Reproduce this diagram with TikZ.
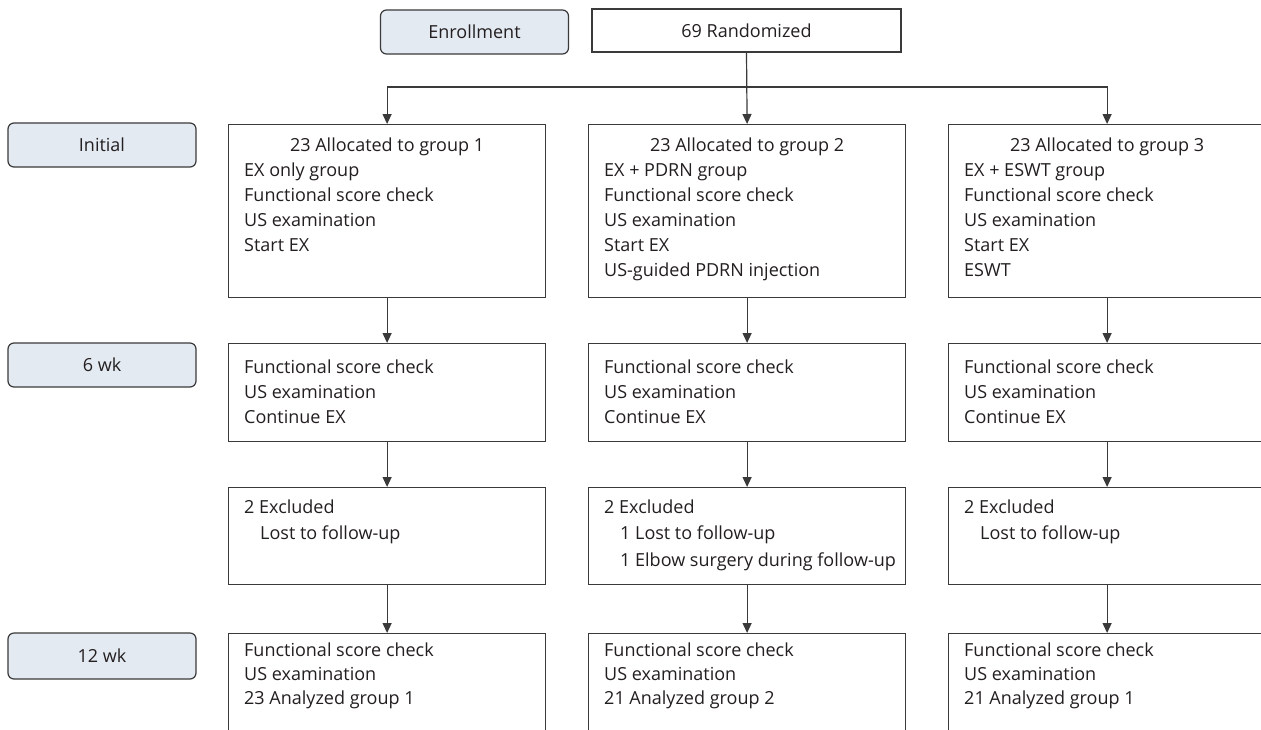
\documentclass[tikz,border=0pt]{standalone}
\usepackage{fontspec}
\setmainfont{Open Sans}
\usetikzlibrary{arrows.meta,calc}
\definecolor{lblfill}{HTML}{E4EAF2}
\definecolor{linec}{HTML}{3A3A3A}
\definecolor{textc}{HTML}{231F20}
\newcommand{\fsA}{\fontsize{18}{25}\selectfont}
\newcommand{\fsB}{\fontsize{18}{26.5}\selectfont}
\newcommand{\fsC}{\fontsize{18}{24}\selectfont}
\tikzset{
 lbl/.style={draw=linec, fill=lblfill, rounded corners=6pt, line width=1.2pt, minimum width=188pt, minimum height=44pt, inner sep=0pt, font=\fsA, text=textc},
 plainbox/.style={draw=linec, line width=1.2pt, inner sep=0pt, font=\fsA, text=textc},
 box/.style={draw=linec, line width=1.2pt, anchor=north west, inner sep=0pt, minimum width=317pt},
 txt/.style={anchor=north west, inner sep=0pt, align=left, text=textc},
 head/.style={anchor=base, inner sep=0pt, font=\fsA, text=textc},
 arr/.style={draw=linec, line width=1.2pt, -{Triangle[length=10pt,width=9pt]}},
 arr2/.style={draw=linec, line width=1.2pt, {Triangle[length=10pt,width=9pt]}-{Triangle[length=10pt,width=9pt]}},
}
\begin{document}
\begin{tikzpicture}[x=1pt,y=-1pt]
\clip (0,0) rectangle (1261,729);
\fill[white] (0,0) rectangle (1261,729);
% phase labels
\node[lbl] (enr) at (474.5,32) {Enrollment};
\node[lbl] (ini) at (102,145) {Initial};
\node[lbl] (wk6) at (102,365) {6 wk};
\node[lbl,minimum height=46pt] (wk12) at (102,656) {12 wk};
\node[plainbox, minimum width=309pt, minimum height=43pt] (rand) at (746.5,30.5) {69 Randomized};
% row 1
\node[box, minimum height=173pt] (g1a) at (228,124) {};
\node[box, minimum height=173pt] (g2a) at (588,124) {};
\node[box, minimum height=173pt] (g3a) at (948,124) {};
% row 2
\node[box, minimum height=98pt] (g1b) at (228,343) {};
\node[box, minimum height=98pt] (g2b) at (588,343) {};
\node[box, minimum height=98pt] (g3b) at (948,343) {};
% row 3
\node[box, minimum height=97pt] (g1c) at (228,487) {};
\node[box, minimum height=97pt] (g2c) at (588,487) {};
\node[box, minimum height=97pt] (g3c) at (948,487) {};
% row 4
\node[box, minimum height=130pt] (g1d) at (228,633) {};
\node[box, minimum height=130pt] (g2d) at (588,633) {};
\node[box, minimum height=130pt] (g3d) at (948,633) {};
% row 1 texts
\node[head] (h1) at ($(g1a.north)+(0,27.4)$) {23 Allocated to group 1};
\node[head] (h2) at ($(g2a.north)+(0,27.4)$) {23 Allocated to group 2};
\node[head] (h3) at ($(g3a.north)+(0,27.4)$) {23 Allocated to group 3};
\node[txt,font=\fsA] (t1a) at ($(g1a.north west)+(16,34.8)$) {\strut EX only group\\Functional score check\\US examination\\Start EX};
\node[txt,font=\fsA] (t2a) at ($(g2a.north west)+(16,34.8)$) {\strut EX + PDRN group\\Functional score check\\US examination\\Start EX\\US-guided PDRN injection};
\node[txt,font=\fsA] (t3a) at ($(g3a.north west)+(16,34.8)$) {\strut EX + ESWT group\\Functional score check\\US examination\\Start EX\\ESWT};
% row 2 texts
\node[txt,font=\fsA] (t1b) at ($(g1b.north west)+(16,12.8)$) {\strut Functional score check\\US examination\\Continue EX};
\node[txt,font=\fsA] (t2b) at ($(g2b.north west)+(16,12.8)$) {\strut Functional score check\\US examination\\Continue EX};
\node[txt,font=\fsA] (t3b) at ($(g3b.north west)+(16,12.8)$) {\strut Functional score check\\US examination\\Continue EX};
% row 3 texts
\node[txt,font=\fsB] (t1c) at ($(g1c.north west)+(16,7.6)$) {\strut 2 Excluded\\\hspace*{16pt}Lost to follow-up};
\node[txt,font=\fsB] (t2c) at ($(g2c.north west)+(16,7.6)$) {\strut 2 Excluded\\\hspace*{16pt}1 Lost to follow-up\\\hspace*{16pt}1 Elbow surgery during follow-up};
\node[txt,font=\fsB] (t3c) at ($(g3c.north west)+(16,7.6)$) {\strut 2 Excluded\\\hspace*{16pt}Lost to follow-up};
% row 4 texts
\node[txt,font=\fsC] (t1d) at ($(g1d.north west)+(16,6.6)$) {\strut Functional score check\\US examination\\23 Analyzed group 1};
\node[txt,font=\fsC] (t2d) at ($(g2d.north west)+(16,6.6)$) {\strut Functional score check\\US examination\\21 Analyzed group 2};
\node[txt,font=\fsC] (t3d) at ($(g3d.north west)+(16,6.6)$) {\strut Functional score check\\US examination\\21 Analyzed group 1};
% connectors
\coordinate (split) at (746.5,87);
\draw[arr] (rand.south) -- (g2a.north);
\draw[arr2] (g1a.north) |- (g3a.north |- split) -- (g3a.north);
\foreach \g in {1,2,3}{
  \draw[arr] (g\g a.south) -- (g\g b.north);
  \draw[arr] (g\g b.south) -- (g\g c.north);
  \draw[arr] (g\g c.south) -- (g\g d.north);
}
\end{tikzpicture}
\end{document}
